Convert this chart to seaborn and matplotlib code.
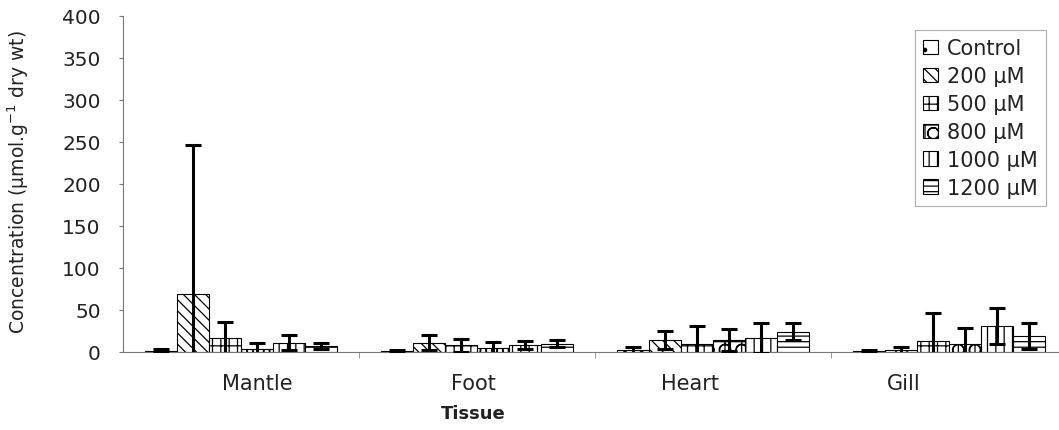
import numpy as np
import pandas as pd
import matplotlib
matplotlib.use("Agg")
import matplotlib.pyplot as plt
from matplotlib.patches import Patch
import seaborn as sns

# data
tissues = ["Mantle", "Foot", "Heart", "Gill"]
treatments = ["Control", "200 µM", "500 µM", "800 µM", "1000 µM", "1200 µM"]
# mean concentration per treatment, one value per tissue
control = [1.5, 1, 2, 1]
t200 = [69, 11, 14, 2]
t500 = [17, 8, 10, 13]
t800 = [3, 5, 14, 10]
t1000 = [11, 8, 17, 31]
t1200 = [7, 10, 24, 19]
# error bar half lengths
err_control = [2, 1, 4, 1]
err_200 = [178, 9, 11, 4]
err_500 = [19, 8, 21, 33]
err_800 = [8, 7, 13, 18]
err_1000 = [9, 5, 18, 21]
err_1200 = [4, 4, 10, 15]

means = [control, t200, t500, t800, t1000, t1200]
errs = [err_control, err_200, err_500, err_800, err_1000, err_1200]
hatches = [".", "\\\\\\", "++", "+O", "||", "---"]

rows = []
for trt, vals, ee in zip(treatments, means, errs):
    for tis, v, e in zip(tissues, vals, ee):
        rows.append({"Tissue": tis, "Treatment": trt, "value": v, "err": e})
df = pd.DataFrame(rows)

sns.set_style("white")
plt.rcParams["font.family"] = ["DejaVu Sans"]
plt.rcParams["hatch.linewidth"] = 0.9

fig = plt.figure(figsize=(10.59, 4.31), dpi=100)
ax = fig.add_axes([123 / 1059, 78 / 431, 944 / 1059, 336 / 431])

sns.barplot(data=df, x="Tissue", y="value", hue="Treatment", order=tissues,
            hue_order=treatments, errorbar=None, width=0.81, gap=0,
            palette=["white"] * 6, edgecolor="black",
            linewidth=0.8, legend=False, ax=ax)

for cont, h, ee in zip(ax.containers, hatches, errs):
    xs = []
    ys = []
    for bar in cont:
        bar.set_hatch(h)
        bar.set_edgecolor("black")
        xs.append(bar.get_x() + bar.get_width() / 2)
        ys.append(bar.get_height())
    ax.errorbar(xs, ys, yerr=ee, fmt="none", ecolor="black", elinewidth=2.2,
                capsize=6, capthick=2.2, zorder=5)

ax.set_xlim(-0.5, 3.5)
ax.set_ylim(0, 400)
ax.set_yticks(range(0, 401, 50))
ax.tick_params(axis="y", labelsize=14.5, length=3, direction="out", pad=13,
               color="#777777", left=True, labelcolor="#222222")
ax.set_xticks([0.068, 0.983, 1.903, 2.81])
ax.set_xticklabels(tissues)
ax.set_xticks([0.5, 1.5, 2.5], minor=True)
ax.tick_params(axis="x", which="major", labelsize=15, length=0, pad=15,
               labelcolor="#222222")
ax.tick_params(axis="x", which="minor", length=4, direction="out",
               color="#888888", bottom=True)

for s in ["top", "right"]:
    ax.spines[s].set_visible(False)
for s in ["left", "bottom"]:
    ax.spines[s].set_color("#777777")
    ax.spines[s].set_linewidth(0.8)

ax.set_xlabel("Tissue", fontsize=13, fontweight="bold", color="#222222")
ax.xaxis.set_label_coords(0.371, -0.155)
ax.set_ylabel("Concentration (µmol.g$^{-1}$ dry wt)", fontsize=13.5,
              color="#222222")
ax.yaxis.set_label_coords(-0.097, 0.509)

handles = [Patch(facecolor="white", edgecolor="black", hatch=h, linewidth=0.8)
           for h in hatches]
leg = ax.legend(handles, treatments, loc="upper right",
                bbox_to_anchor=(1046 / 1059, 1 - 31 / 431),
                bbox_transform=fig.transFigure, borderaxespad=0,
                fontsize=15, frameon=True, fancybox=False,
                handlelength=0.7, handleheight=0.7, handletextpad=0.45,
                labelspacing=0.38, borderpad=0.4)
for t in leg.get_texts():
    t.set_color("#222222")
leg.get_frame().set_edgecolor("#999999")
leg.get_frame().set_linewidth(0.8)

fig.savefig("out.png", dpi=100)
